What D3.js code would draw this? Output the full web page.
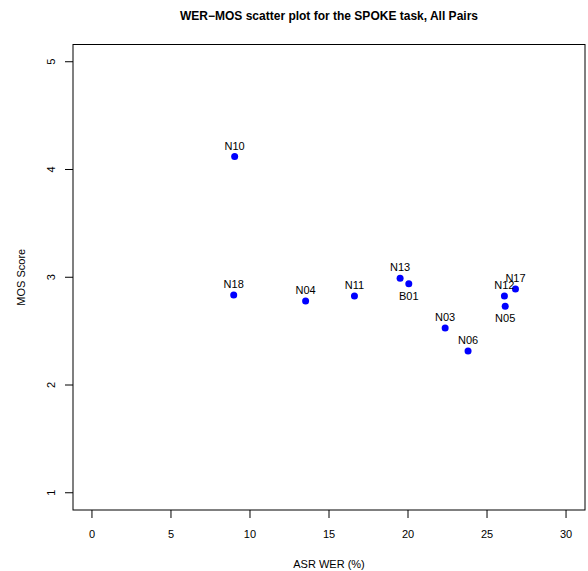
<!DOCTYPE html>
<head>
  <meta charset="utf-8">
  <script src="https://d3js.org/d3.v7.min.js"></script>
  <style>
    body { margin:0; background:#fff; }
    text { font-family: "Liberation Sans", Arial, sans-serif; fill:#000; }
  </style>
</head>
<body>
  <script>
    // data
    var systems = ["N10", "N18", "N04", "N11", "N13", "B01", "N03", "N06", "N12", "N05", "N17"];
    var wer = [9.03, 8.97, 13.52, 16.61, 19.5, 20.05, 22.35, 23.8, 26.1, 26.15, 26.8];
    var mos = [4.12, 2.835, 2.78, 2.825, 2.99, 2.94, 2.53, 2.315, 2.825, 2.73, 2.89];
    var labelBelow = ["B01", "N05"];
    var xTicks = [0, 5, 10, 15, 20, 25, 30];
    var yTicks = [1, 2, 3, 4, 5];

    var width = 588, height = 571;
    var box = {left:73, right:585, top:44.5, bottom:510};

    var svg = d3.select("body").append("svg")
      .attr("width", width)
      .attr("height", height);

    // R style: 4% padding around the data range
    var x = d3.scaleLinear().domain([-1.2, 31.2]).range([box.left, box.right]);
    var y = d3.scaleLinear().domain([0.84, 5.16]).range([box.bottom, box.top]);

    svg.append("rect")
      .attr("x", box.left).attr("y", box.top)
      .attr("width", box.right - box.left).attr("height", box.bottom - box.top)
      .attr("fill", "none").attr("stroke", "#000").attr("stroke-width", 1);

    // x axis (ticks hang off the box)
    var xa = svg.append("g").attr("transform", "translate(0," + box.bottom + ")");
    xa.selectAll(".t").data(xTicks).enter().append("line")
      .attr("x1", function(d){ return x(d); }).attr("x2", function(d){ return x(d); })
      .attr("y1", 0).attr("y2", 8).attr("stroke", "#000");
    xa.selectAll("text").data(xTicks).enter().append("text")
      .attr("x", function(d){ return x(d); }).attr("y", 28)
      .attr("text-anchor", "middle").style("font-size", "11px")
      .text(function(d){ return d; });

    // y axis
    var ya = svg.append("g").attr("transform", "translate(" + box.left + ",0)");
    ya.selectAll(".t").data(yTicks).enter().append("line")
      .attr("y1", function(d){ return y(d); }).attr("y2", function(d){ return y(d); })
      .attr("x1", 0).attr("x2", -8).attr("stroke", "#000");
    ya.selectAll("text").data(yTicks).enter().append("text")
      .attr("transform", function(d){ return "translate(-18," + y(d) + ") rotate(-90)"; })
      .attr("text-anchor", "middle").style("font-size", "11px")
      .text(function(d){ return d; });

    // titles
    svg.append("text").attr("x", (box.left + box.right) / 2).attr("y", 20)
      .attr("text-anchor", "middle").style("font-size", "12px").style("font-weight", "bold")
      .text("WER\u2212MOS scatter plot for the SPOKE task, All Pairs");
    svg.append("text").attr("x", (box.left + box.right) / 2).attr("y", 568)
      .attr("text-anchor", "middle").style("font-size", "11px")
      .text("ASR WER (%)");
    svg.append("text").attr("transform", "translate(25," + ((box.top + box.bottom) / 2) + ") rotate(-90)")
      .attr("text-anchor", "middle").style("font-size", "11px")
      .text("MOS Score");

    var pts = systems.map(function(s, i){ return {name:s, x:wer[i], y:mos[i]}; });

    svg.append("g").selectAll("circle").data(pts).enter().append("circle")
      .attr("cx", function(d){ return x(d.x); })
      .attr("cy", function(d){ return y(d.y); })
      .attr("r", 3.5).attr("fill", "#0000ff");

    svg.append("g").selectAll("text").data(pts).enter().append("text")
      .attr("x", function(d){ return x(d.x); })
      .attr("y", function(d){
        return labelBelow.indexOf(d.name) >= 0 ? y(d.y) + 16 : y(d.y) - 7;
      })
      .attr("text-anchor", "middle").style("font-size", "11px")
      .text(function(d){ return d.name; });
  </script>
</body>
